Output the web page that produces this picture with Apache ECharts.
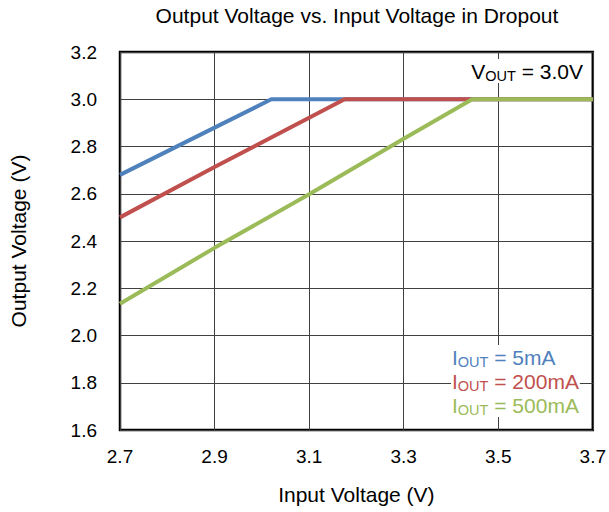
<!DOCTYPE html>
<html>
<head>
<meta charset="utf-8">
<script src="https://cdn.jsdelivr.net/npm/echarts@6/dist/echarts.min.js"></script>
<style>html,body{margin:0;padding:0;background:#fff}#c{width:609px;height:512px}</style>
</head>
<body>
<div id="c"></div>
<script>
// Data
const blueVin = [2.7, 2.9, 3.02, 3.7];
const blueVout = [2.68, 2.88, 3.0, 3.0];
const redVin = [2.7, 2.9, 3.175, 3.7];
const redVout = [2.50, 2.713, 3.0, 3.0];
const greenVin = [2.7, 2.9, 3.1, 3.3, 3.445, 3.7];
const greenVout = [2.134, 2.371, 2.598, 2.833, 3.0, 3.0];
const xTicks = [2.7, 2.9, 3.1, 3.3, 3.5, 3.7];
const yTicks = [1.6, 1.8, 2.0, 2.2, 2.4, 2.6, 2.8, 3.0, 3.2];
const seriesNames = ['IOUT = 5mA', 'IOUT = 200mA', 'IOUT = 500mA'];
const legendRich = ['{n|I}{s|OUT}{n| = 5mA}', '{n|I}{s|OUT}{n| = 200mA}', '{n|I}{s|OUT}{n| = 500mA}'];
const colors = ['#4F81BD', '#C0504D', '#9BBB59'];

const pair = (xs, ys) => xs.map((x, i) => [x, ys[i]]);
const FONT = 'Liberation Sans, Arial, sans-serif';

const chart = echarts.init(document.getElementById('c'), null, {renderer: 'svg'});
const gridL = 120, gridR = 15, gridT = 52, gridB = 82;

function richStyle(color) {
  return {
    n: {fontSize: 21, fontFamily: FONT, fill: color, lineHeight: 24},
    s: {fontSize: 14.5, fontFamily: FONT, fill: color, lineHeight: 9, verticalAlign: 'bottom'}
  };
}

chart.setOption({
  animation: false,
  title: {
    text: 'Output Voltage vs. Input Voltage in Dropout',
    left: 352, top: 0, textAlign: 'center',
    textStyle: {fontSize: 21, fontWeight: 'normal', color: '#000', fontFamily: FONT}
  },
  grid: {left: gridL, right: gridR, top: gridT, bottom: gridB, show: true,
         borderColor: '#000', borderWidth: 2.5, backgroundColor: 'transparent'},
  xAxis: [{
    type: 'value', min: xTicks[0], max: xTicks[xTicks.length - 1],
    name: 'Input Voltage (V)', nameLocation: 'middle', nameGap: 54,
    nameTextStyle: {fontSize: 21, color: '#000', fontFamily: FONT},
    axisLine: {show: false}, axisTick: {show: false},
    splitLine: {show: false},
    axisLabel: {customValues: xTicks, formatter: v => v.toFixed(1), fontSize: 19, color: '#000', fontFamily: FONT, margin: 17}
  }, {
    type: 'value', min: 0, max: xTicks.length - 1, interval: 1,
    axisLine: {show: false}, axisTick: {show: false}, axisLabel: {show: false},
    splitLine: {show: true, lineStyle: {color: '#404040', width: 1}}
  }],
  yAxis: {
    type: 'value', min: yTicks[0], max: yTicks[yTicks.length - 1], interval: 0.2,
    name: 'Output Voltage (V)', nameLocation: 'middle', nameGap: 91,
    nameTextStyle: {fontSize: 21, color: '#000', fontFamily: FONT},
    axisLine: {show: false}, axisTick: {show: false},
    splitLine: {show: true, lineStyle: {color: '#404040', width: 1}},
    axisLabel: {formatter: v => v.toFixed(1), fontSize: 19, color: '#000', fontFamily: FONT, margin: 23}
  },
  series: [
    {name: seriesNames[0], type: 'line', data: pair(blueVin, blueVout), showSymbol: false, lineStyle: {width: 4, color: colors[0]}, itemStyle: {color: colors[0]}, z: 3},
    {name: seriesNames[1], type: 'line', data: pair(redVin, redVout), showSymbol: false, lineStyle: {width: 4, color: colors[1]}, itemStyle: {color: colors[1]}, z: 4},
    {name: seriesNames[2], type: 'line', data: pair(greenVin, greenVout), showSymbol: false, lineStyle: {width: 4, color: colors[2]}, itemStyle: {color: colors[2]}, z: 5}
  ],
  graphic: [
    {type: 'text', right: 26, top: 59, z: 10,
     style: {text: '{n|V}{s|OUT}{n| = 3.0V}', rich: richStyle('#000'), backgroundColor: '#fff'}},
    {type: 'text', left: 451, top: 345, z: 10,
     style: {text: legendRich[0], rich: richStyle(colors[0]), backgroundColor: '#fff', padding: [0, 1]}},
    {type: 'text', left: 451, top: 369, z: 10,
     style: {text: legendRich[1], rich: richStyle(colors[1]), backgroundColor: '#fff', padding: [0, 1]}},
    {type: 'text', left: 451, top: 393, z: 10,
     style: {text: legendRich[2], rich: richStyle(colors[2]), backgroundColor: '#fff', padding: [0, 1]}}
  ]
});
</script>
</body>
</html>
